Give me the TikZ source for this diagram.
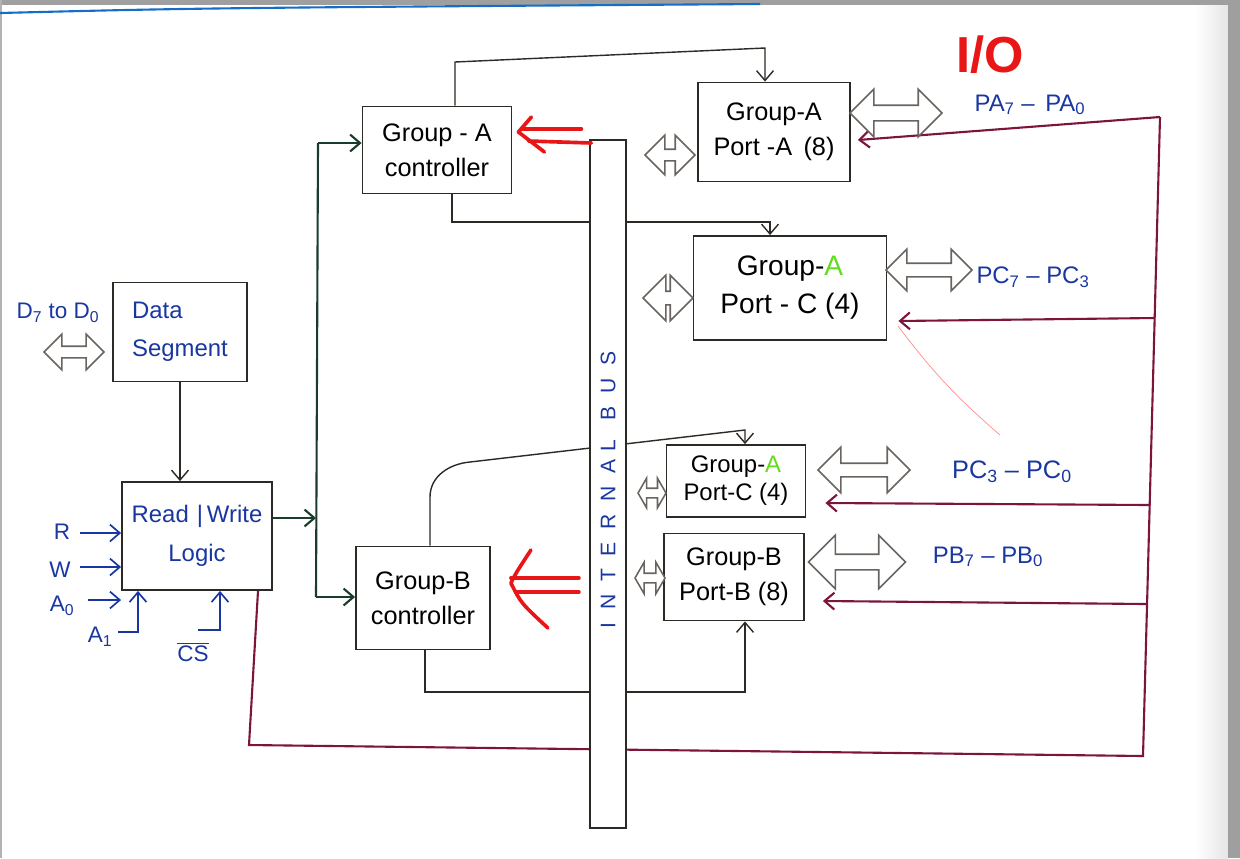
\documentclass[tikz,border=0pt]{standalone}
\usepackage{fontspec}
\setmainfont{Liberation Sans}
\usetikzlibrary{arrows.meta,shapes.arrows,calc}
\definecolor{ink}{RGB}{45,42,38}
\definecolor{bluink}{RGB}{25,55,160}
\definecolor{maroonink}{RGB}{125,20,60}
\definecolor{greenink}{RGB}{25,60,45}
\definecolor{redink}{RGB}{232,22,22}
\definecolor{limeA}{RGB}{100,220,30}
\definecolor{arrgray}{RGB}{105,100,95}
\definecolor{scanblue}{RGB}{20,110,200}

\begin{document}
\begin{tikzpicture}[x=0.025cm,y=-0.025cm,
  sz/.style 2 args={minimum width=#1*0.025cm, minimum height=#2*0.025cm},
  blk/.style={draw=ink, line width=1.3pt, fill=white, inner sep=0pt, align=center,
              font=\fontsize{18}{25}\selectfont},
  tip/.style={-{Straight Barb[length=7pt,width=12pt]}},
  wire/.style={draw=ink, line width=1pt},
  greenwire/.style={draw=greenink, line width=1.5pt},
  bwire/.style={draw=bluink, line width=1.2pt},
  mwire/.style={draw=maroonink, line width=1.5pt},
  redarrow/.style={draw=redink, line width=2.6pt, line cap=round, line join=round},
  hollow/.style={double arrow, draw=arrgray, line width=1.1pt, fill=white,
                 inner xsep=0pt, minimum width=0pt},
  lbl/.style={text=bluink, inner sep=1pt, font=\fontsize{16}{18}\selectfont},
]
\useasboundingbox (0,0) rectangle (1240,858);

% scan edges
\fill[gray!75] (0,0) rectangle (1240,5);
\shade[left color=white, right color=gray!20] (1195,5) rectangle (1228,858);
\fill[gray!75] (1228,0) rectangle (1240,858);
\fill[gray!60] (0,0) rectangle (2,858);
\draw[scanblue, line width=1.5pt] (0,13) .. controls (200,8) .. (760,4);

% blocks
\node[blk, sz={134}{99}, text=bluink, font=\fontsize{17}{27}\selectfont, align=left]
  (ds) at (180,332) {Data\\Segment};
\node[blk, sz={150}{108}, text=bluink, font=\fontsize{17}{28}\selectfont]
  (rw) at (197,536) {Read\,\,|\,Write\\Logic};
\node[blk, sz={149}{87}] (gac) at (437,150) {Group - A\\controller};
\node[blk, sz={134}{103}] (gbc) at (423,598) {Group-B\\controller};
\node[blk, sz={152}{99}] (pa) at (774,132) {Group-A\\Port -A \,(8)};
\node[blk, sz={193}{104}, font=\fontsize{20}{27}\selectfont]
  (pc1) at (790,288) {Group-\textcolor{limeA}{A}\\Port - C (4)};
\node[blk, sz={139}{72}, font=\fontsize{17}{20}\selectfont]
  (pc2) at (736,481) {Group-\textcolor{limeA}{A}\\Port-C (4)};
\node[blk, sz={140}{87}] (pb) at (734,577) {Group-B\\Port-B (8)};

% control wires between controllers and ports
\coordinate (t1) at (455,62);  \coordinate (t2) at (765,48);
\draw[wire,tip] (gac.north -| t1) -- (t1) -- (t2) -- (pa.north -| t2);
\coordinate (b1) at (452,222); \coordinate (b2) at (770,222);
\draw[wire,tip] (gac.south -| b1) -- (b1) -- (b2) -- (pc1.north -| b2);
\coordinate (c1) at (430,497); \coordinate (c2) at (470,462); \coordinate (c3) at (745,430);
\draw[wire,tip] (gbc.north -| c1) -- (c1) to[out=90,in=185] (c2) -- (c3) -- (pc2.north -| c3);
\coordinate (d1) at (425,692); \coordinate (d2) at (745,692);
\draw[wire,tip] (gbc.south -| d1) -- (d1) -- (d2) -- (pb.south -| d2);

% data segment to read/write logic
\draw[wire,tip] (ds.south) -- (ds.south |- rw.north);

% read/write logic to both controllers
\coordinate (g0) at (316,518); \coordinate (g1) at (318,143); \coordinate (g2) at (316,597);
\draw[greenwire,tip] (rw.east |- g0) -- (g0);
\draw[greenwire] (g1) -- (g2);
\draw[greenwire,tip] (g1) -- (gac.west |- g1);
\draw[greenwire,tip] (g2) -- (gbc.west |- g2);

% control inputs
\coordinate (inR) at (80,533);  \draw[bwire,tip] (inR) -- (rw.west |- inR);
\coordinate (inW) at (80,567);  \draw[bwire,tip] (inW) -- (rw.west |- inW);
\coordinate (inA) at (88,600);  \draw[bwire,tip] (inA) -- (rw.west |- inA);
\coordinate (a1s) at (118,632); \coordinate (a1b) at (138,632);
\draw[bwire,tip] (a1s) -- (a1b) -- (rw.south -| a1b);
\coordinate (css) at (198,630); \coordinate (csb) at (220,630);
\draw[bwire,tip] (css) -- (csb) -- (rw.south -| csb);
\node[lbl] (lR) at (62,532) {R};
\node[lbl] (lW) at (60,570) {W};
\node[lbl] (lA0) at (62,606) {A\textsubscript{0}};
\node[lbl] (lA1) at (100,637) {A\textsubscript{1}};
\node[lbl] (lCS) at (193,652) {$\overline{\mbox{CS}}$};
\node[lbl] (lD) at (58,313) {D\textsubscript{7} to D\textsubscript{0}};

% feedback line from read/write logic to the ports
\coordinate (m0) at (258,0); \coordinate (m1) at (249,745);
\coordinate (m2) at (1143,756); \coordinate (m3) at (1160,117);
\draw[mwire] (rw.south -| m0) -- (m1) -- (m2) -- (m3);
\draw[mwire,tip] (m3) -- ($(pa.east)+(7,8)$);
\coordinate (m4) at (1155,318);
\draw[mwire,tip] (m4) -- ($(pc1.east |- m4)+(11,3)$);
\coordinate (m5) at (1150,505);
\draw[mwire,tip] (m5) -- ($(pc2.east |- m5)+(19,-2)$);
\coordinate (m6) at (1147,604);
\draw[mwire,tip] (m6) -- ($(pb.east |- m6)+(18,-3)$);

% internal bus
\node[draw=ink, line width=1pt, fill=white, sz={36}{688}, inner sep=0pt] (bus) at (608,484) {};
\node[rotate=90, text=bluink, font=\fontsize{15}{15}\selectfont] (busl) at (bus.center |- 0,490)
  {I\hspace{0.6em}N\hspace{0.6em}T\hspace{0.6em}E\hspace{0.6em}R\hspace{0.6em}N\hspace{0.6em}A\hspace{0.4em}L\hspace{0.9em}B\hspace{0.6em}U\hspace{0.6em}S};

% hollow data paths
\node[hollow, minimum height=60*0.025cm, inner ysep=0.125cm, double arrow head extend=0.3cm] (hD) at (74,352) {};
\node[hollow, minimum height=50*0.025cm, inner ysep=0.125cm, double arrow head extend=0.35cm] (hbA) at (670,155) {};
\node[hollow, minimum height=50*0.025cm, inner ysep=0.15cm, double arrow head extend=0.4cm] (hbC1) at (668,298) {};
\node[hollow, minimum height=28*0.025cm, inner ysep=0.1cm, double arrow head extend=0.25cm, double arrow tip angle=120] (hbC2) at (652,493) {};
\node[hollow, minimum height=30*0.025cm, inner ysep=0.1cm, double arrow head extend=0.275cm, double arrow tip angle=120] (hbB) at (650,578) {};
\node[hollow, minimum height=92*0.025cm, inner ysep=0.175cm, double arrow head extend=0.4cm] (hA) at (896,113) {};
\node[hollow, minimum height=86*0.025cm, inner ysep=0.15cm, double arrow head extend=0.35cm] (hC1) at (929,270) {};
\node[hollow, minimum height=92*0.025cm, inner ysep=0.15cm, double arrow head extend=0.4cm] (hC2) at (864,470) {};
\node[hollow, minimum height=97*0.025cm, inner ysep=0.175cm, double arrow head extend=0.475cm] (hB) at (857,562) {};

% port labels
\node[lbl, font=\fontsize{17}{19}\selectfont] (lPA) at (1030,105) {PA\textsubscript{7} – \,PA\textsubscript{0}};
\node[lbl, font=\fontsize{17}{19}\selectfont] (lPC1) at (1033,277) {PC\textsubscript{7} – PC\textsubscript{3}};
\node[lbl, font=\fontsize{18}{20}\selectfont] (lPC2) at (1012,472) {PC\textsubscript{3} – PC\textsubscript{0}};
\node[lbl, font=\fontsize{17}{19}\selectfont] (lPB) at (988,557) {PB\textsubscript{7} – PB\textsubscript{0}};
\node[text=redink, font=\fontsize{36}{36}\selectfont\bfseries] (io) at (990,55) {I/O};

% red markers pointing to the controllers
\coordinate (ra) at ($(gac.east)+(6,-18)$);
\draw[redarrow] (ra) ++(3,-3) -- ++(60,0);
\draw[redarrow] (ra) ++(10,9) -- ++(63,2);
\draw[redarrow] ($(ra)+(13,-15)$) -- (ra) -- ($(ra)+(26,20)$);
\coordinate (rb) at ($(gbc.east)+(20,-15)$);
\draw[redarrow] (rb) ++(0,-5) -- ++(68,0);
\draw[redarrow] (rb) ++(5,9) -- ++(63,0);
\draw[redarrow] ($(rb)+(20,-33)$) .. controls ($(rb)+(5,-10)$) .. (rb) .. controls ($(rb)+(10,20)$) .. ($(rb)+(37,45)$);

% stray pen stroke
\draw[red!45, line width=0.5pt] (898,326) to[bend right=6] (1000,435);
\end{tikzpicture}
\end{document}
